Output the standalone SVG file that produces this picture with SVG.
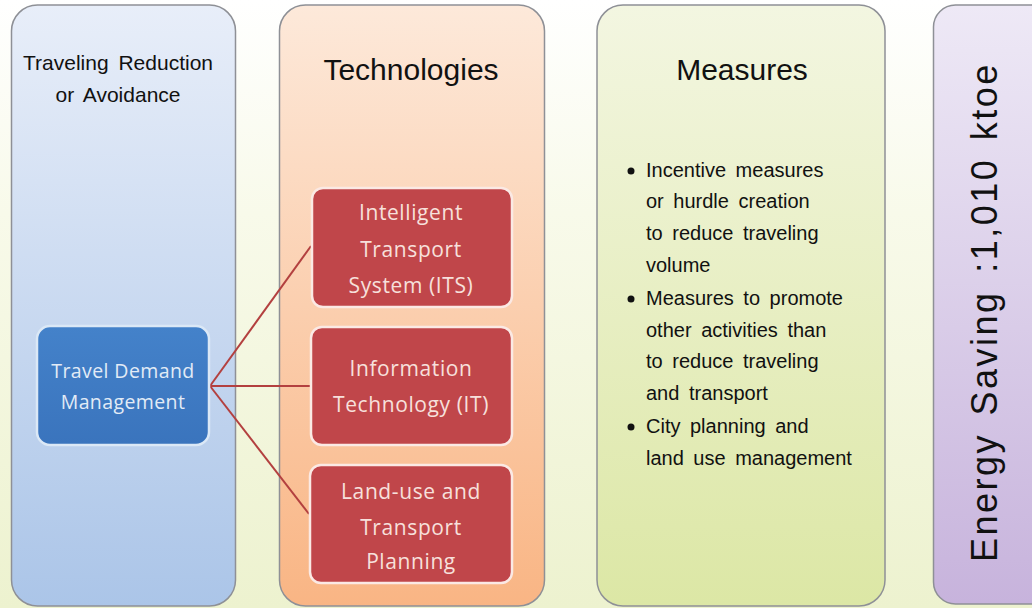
<svg xmlns="http://www.w3.org/2000/svg" width="1032" height="608" viewBox="0 0 1032 608">
  <defs>
    <linearGradient id="bg" x1="0" y1="0" x2="0" y2="1">
      <stop offset="0" stop-color="#ffffff"/>
      <stop offset="0.35" stop-color="#f8faea"/>
      <stop offset="1" stop-color="#edf2cf"/>
    </linearGradient>
    <linearGradient id="gBlue" x1="0" y1="0" x2="0" y2="1">
      <stop offset="0" stop-color="#e8eef9"/>
      <stop offset="1" stop-color="#abc5e8"/>
    </linearGradient>
    <linearGradient id="gOrange" x1="0" y1="0" x2="0" y2="1">
      <stop offset="0" stop-color="#fde9da"/>
      <stop offset="1" stop-color="#f9b584"/>
    </linearGradient>
    <linearGradient id="gGreen" x1="0" y1="0" x2="0" y2="1">
      <stop offset="0" stop-color="#f3f6e1"/>
      <stop offset="1" stop-color="#dce7a5"/>
    </linearGradient>
    <linearGradient id="gPurple" x1="0" y1="0" x2="0" y2="1">
      <stop offset="0" stop-color="#eee9f6"/>
      <stop offset="1" stop-color="#c7b3dc"/>
    </linearGradient>
    <linearGradient id="gNode" x1="0" y1="0" x2="0" y2="1">
      <stop offset="0" stop-color="#4482ca"/>
      <stop offset="1" stop-color="#3a74bd"/>
    </linearGradient>
  </defs>
  <style>
    .panel { stroke: #8e9096; stroke-width: 1.5; }
    .title { font-family: "Liberation Sans", Arial, sans-serif; fill: #111; text-anchor: middle; }
    .bul { font-family: "Liberation Sans", Arial, sans-serif; font-size: 20px; fill: #111; word-spacing: 4px; }
    .red { fill: #c0464a; stroke: #fbe9e4; stroke-width: 2.5; }
    .redtxt { font-family: "Open Sans", "Liberation Sans", sans-serif; font-size: 21px; fill: #f7e0dc; text-anchor: middle; letter-spacing: 0.6px; }
    .conn { stroke: #b3403f; stroke-width: 2; fill: none; }
  </style>

  <rect x="0" y="0" width="1032" height="608" fill="url(#bg)"/>

  <g id="panel-reduction">
    <rect class="panel" x="11.5" y="5" width="224" height="601" rx="26" fill="url(#gBlue)"/>
    <text class="title" font-size="21" word-spacing="4" x="118" y="70">Traveling Reduction</text>
    <text class="title" font-size="21" word-spacing="4" x="118" y="102">or Avoidance</text>
  </g>

  <g id="panel-technologies">
    <rect class="panel" x="279.5" y="5" width="265" height="601" rx="26" fill="url(#gOrange)"/>
    <text class="title" font-size="30" x="411" y="80">Technologies</text>
  </g>

  <g id="panel-measures">
    <rect class="panel" x="597" y="5" width="288" height="601" rx="26" fill="url(#gGreen)"/>
    <text class="title" font-size="30" x="742" y="80">Measures</text>
    <circle cx="631" cy="171" r="3.5" fill="#111"/>
    <circle cx="631" cy="299" r="3.5" fill="#111"/>
    <circle cx="631" cy="427" r="3.5" fill="#111"/>
    <text class="bul" x="646" y="177">Incentive measures</text>
    <text class="bul" x="646" y="208">or hurdle creation</text>
    <text class="bul" x="646" y="240">to reduce traveling</text>
    <text class="bul" x="646" y="272">volume</text>
    <text class="bul" x="646" y="305">Measures to promote</text>
    <text class="bul" x="646" y="337">other activities than</text>
    <text class="bul" x="646" y="368">to reduce traveling</text>
    <text class="bul" x="646" y="400">and transport</text>
    <text class="bul" x="646" y="433">City planning and</text>
    <text class="bul" x="646" y="465">land use management</text>
  </g>

  <g id="panel-saving">
    <rect class="panel" x="933.5" y="5" width="120" height="599" rx="22" fill="url(#gPurple)"/>
    <text font-family="&quot;Liberation Sans&quot;, Arial, sans-serif" font-size="36" fill="#111" letter-spacing="2.5" word-spacing="5" transform="translate(997,562) rotate(-90)" x="0" y="0">Energy Saving :1,010 ktoe</text>
  </g>

  <g id="connectors">
    <line class="conn" x1="210" y1="386" x2="311" y2="246"/>
    <line class="conn" x1="210" y1="386" x2="311" y2="386"/>
    <line class="conn" x1="210" y1="386" x2="309" y2="514"/>
  </g>

  <g id="node-tdm">
    <rect x="37" y="326" width="172" height="119" rx="13" fill="url(#gNode)" stroke="#dbe8f6" stroke-width="2.5"/>
    <text font-family="&quot;Open Sans&quot;, &quot;Liberation Sans&quot;, sans-serif" font-size="19.5" fill="#e2ebf6" text-anchor="middle" letter-spacing="0.4" x="123" y="378">Travel Demand</text>
    <text font-family="&quot;Open Sans&quot;, &quot;Liberation Sans&quot;, sans-serif" font-size="19.5" fill="#e2ebf6" text-anchor="middle" letter-spacing="0.4" x="123" y="409">Management</text>
  </g>

  <g id="node-its">
    <rect class="red" x="312" y="188" width="200" height="119" rx="11"/>
    <text class="redtxt" x="411" y="220">Intelligent</text>
    <text class="redtxt" x="411" y="257">Transport</text>
    <text class="redtxt" x="411" y="293">System (ITS)</text>
  </g>

  <g id="node-it">
    <rect class="red" x="311" y="327" width="201" height="118" rx="11"/>
    <text class="redtxt" x="411" y="376">Information</text>
    <text class="redtxt" x="411" y="412">Technology (IT)</text>
  </g>

  <g id="node-landuse">
    <rect class="red" x="310" y="465" width="202" height="118" rx="11"/>
    <text class="redtxt" x="411" y="499">Land-use and</text>
    <text class="redtxt" x="411" y="535">Transport</text>
    <text class="redtxt" x="411" y="569">Planning</text>
  </g>
</svg>
